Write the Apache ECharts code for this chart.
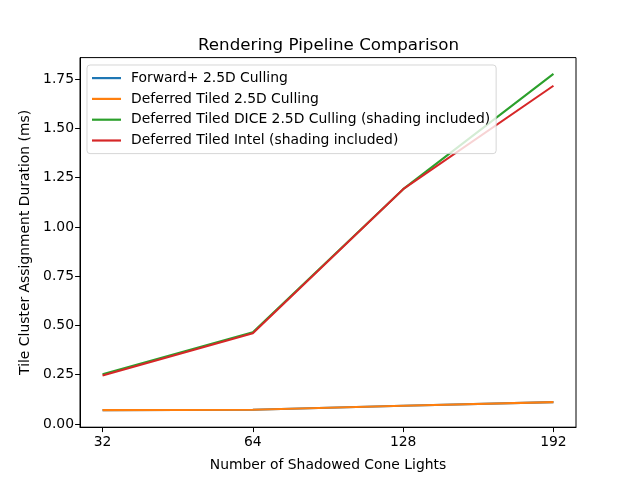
<!DOCTYPE html>
<html><head><meta charset="utf-8">
<script src="https://cdn.jsdelivr.net/npm/echarts@6/dist/echarts.min.js"></script>
<style>html,body{margin:0;padding:0;background:#fff}#c{width:640px;height:480px}</style>
</head><body><div id="c"></div>
<script>
const categories = ['32', '64', '128', '192'];
const forwardPlus = [0.070, 0.072, 0.092, 0.111];
const deferredTiled = [0.070, 0.072, 0.092, 0.111];
const deferredDice = [0.252, 0.465, 1.192, 1.777];
const deferredIntel = [0.246, 0.460, 1.192, 1.717];
const yTicks = [0, 0.25, 0.5, 0.75, 1.0, 1.25, 1.5, 1.75];
const seriesNames = ['Forward+ 2.5D Culling', 'Deferred Tiled 2.5D Culling', 'Deferred Tiled DICE 2.5D Culling (shading included)', 'Deferred Tiled Intel (shading included)'];
const colors = ['#1f77b4', '#ff7f0e', '#2ca02c', '#d62728'];
const allData = [forwardPlus, deferredTiled, deferredDice, deferredIntel];
const xIdx = categories.map((c, i) => i);
const font = 'DejaVu Sans';
const chart = echarts.init(document.getElementById('c'), null, {renderer: 'canvas'});
chart.setOption({
  animation: false,
  backgroundColor: '#fff',
  textStyle: {fontFamily: font},
  title: {text: 'Rendering Pipeline Comparison', left: 193, top: 32,
    textStyle: {fontFamily: font, fontSize: 16.7, fontWeight: 'normal', color: '#000'}},
  grid: {left: 80, right: 64, top: 57.6, bottom: 52.8, show: true, borderColor: '#000', borderWidth: 1, backgroundColor: 'transparent'},
  legend: {orient: 'vertical', left: 87, top: 65, itemWidth: 29, itemHeight: 2.2, itemGap: 4.6,
    padding: [5, 6, 5, 5], borderColor: 'rgba(204,204,204,0.8)', borderWidth: 1, borderRadius: 3,
    backgroundColor: 'rgba(255,255,255,0.8)',
    textStyle: {fontFamily: font, fontSize: 13.9, color: '#000', padding: [0, 0, 0, 5], lineHeight: 16.2},
    icon: 'rect',
    data: seriesNames},
  xAxis: {type: 'value', min: -0.15, max: 3.15,
    name: 'Number of Shadowed Cone Lights', nameLocation: 'middle', nameGap: 31,
    nameTextStyle: {fontFamily: font, fontSize: 13.9, color: '#000'},
    axisLine: {show: true, onZero: false, lineStyle: {color: '#000', width: 1}},
    axisTick: {show: true, length: 4.9, lineStyle: {color: '#000', width: 1}, customValues: xIdx},
    axisLabel: {customValues: xIdx, formatter: v => categories[Math.round(v)], fontFamily: font, fontSize: 13.9, color: '#000', margin: 8},
    splitLine: {show: false}},
  yAxis: {type: 'value', min: -0.0165, max: 1.86,
    name: 'Tile Cluster Assignment Duration (ms)', nameLocation: 'middle', nameGap: 48,
    nameTextStyle: {fontFamily: font, fontSize: 13.9, color: '#000'},
    axisLine: {show: true, onZero: false, lineStyle: {color: '#000', width: 1}},
    axisTick: {show: true, length: 4.9, lineStyle: {color: '#000', width: 1}, customValues: yTicks},
    axisLabel: {customValues: yTicks, formatter: v => v.toFixed(2), fontFamily: font, fontSize: 13.9, color: '#000', margin: 6},
    splitLine: {show: false}},
  series: seriesNames.map((n, k) => ({
    name: n, type: 'line', symbol: 'none', color: colors[k],
    lineStyle: {width: 2.08, color: colors[k]},
    data: allData[k].map((v, i) => [xIdx[i], v])
  }))
});
</script></body></html>
